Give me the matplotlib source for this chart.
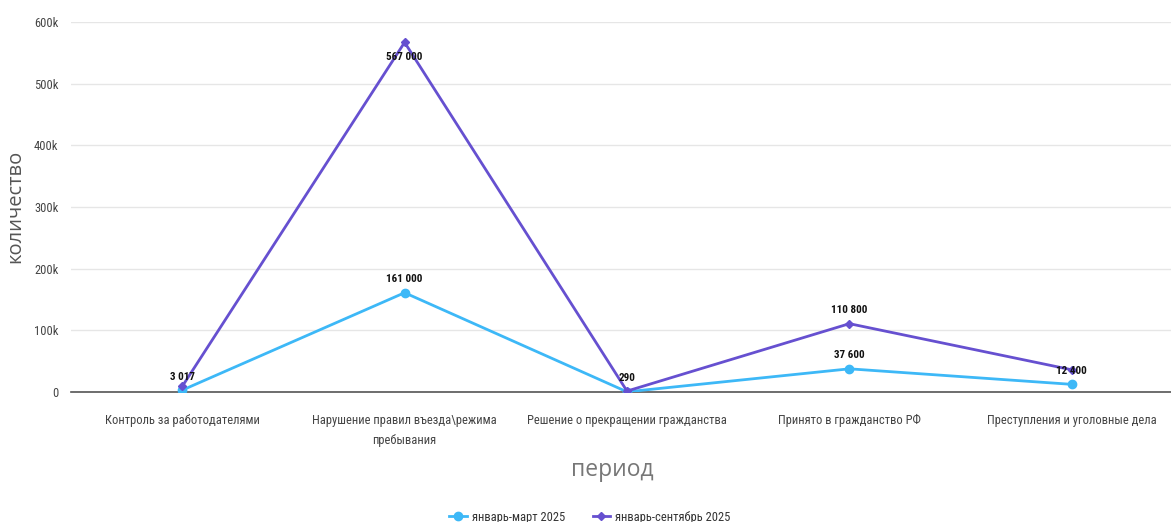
import matplotlib
matplotlib.use("Agg")
import matplotlib.pyplot as plt

categories = ["Контроль за работодателями", "Нарушение правил въезда\\режима\nпребывания",
              "Решение о прекращении гражданства", "Принято в гражданство РФ",
              "Преступления и уголовные дела"]
series_names = ["январь-март 2025", "январь-сентябрь 2025"]
jan_mar = [3017, 161000, 290, 37600, 12400]
jan_sep = [9000, 567000, 1500, 110800, 36000]
labels_mar = ["3 017", "161 000", "290", "37 600", "12 400"]
labels_sep = [None, "567 000", None, "110 800", None]
yticks = [0, 100000, 200000, 300000, 400000, 500000, 600000]
ytick_labels = ["0", "100k", "200k", "300k", "400k", "500k", "600k"]

narrow = ["Roboto Condensed", "Liberation Sans Narrow", "Roboto", "DejaVu Sans"]

W, H = 1171, 522
fig = plt.figure(figsize=(W/100, H/100), dpi=100)
ax = fig.add_axes([71/W, 1-392/H, 1100/W, 370/H])
c1, c2 = "#3db8f7", "#6650d0"
x = list(range(len(categories)))
ax.plot(x, jan_mar, color=c1, lw=2, marker="o", ms=6, label=series_names[0], zorder=3)
ax.plot(x, jan_sep, color=c2, lw=2, marker="D", ms=4, label=series_names[1], zorder=4)
for xi, v, l in zip(x, jan_mar, labels_mar):
    if l:
        ax.annotate(l, (xi, v), xytext=(0, 6), textcoords="offset points", ha="center", va="bottom",
                    fontsize=8, fontweight="bold", family=narrow, color="#111111", zorder=5)
for xi, v, l in zip(x, jan_sep, labels_sep):
    if l:
        off = -14 if xi == 1 else 6
        ax.annotate(l, (xi, v), xytext=(0, off), textcoords="offset points", ha="center",
                    va="bottom", fontsize=8, fontweight="bold", family=narrow, color="#111111", zorder=5)
ax.set_xlim(-0.5, 4.5 - 12/222.5)
ax.set_ylim(0, 600000)
ax.set_yticks(yticks)
ax.set_yticklabels(ytick_labels, family=narrow, fontsize=9, color="#444444")
ax.set_xticks(x)
ax.set_xticklabels(categories, family=narrow, fontsize=9, color="#444444", linespacing=1.65)
ax.tick_params(axis="y", length=0, pad=9)
ax.tick_params(axis="x", length=0, pad=16)
ax.grid(axis="y", color="#e6e6e6", lw=1)
ax.set_axisbelow(True)
for s in ["top", "right", "left"]:
    ax.spines[s].set_visible(False)
ax.spines["bottom"].set_color("#555555")
ax.spines["bottom"].set_linewidth(1.2)
ax.spines["bottom"].set_zorder(2)
fig.text(15/W, 1-206/H, "количество", rotation=90, ha="center", va="center",
         fontsize=14.5, color="#555555", family="Open Sans")
fig.text(612/W, 1-470/H, "период", ha="center", va="center", fontsize=16.5,
         color="#777777", family="Open Sans")
leg = fig.legend(loc="center", bbox_to_anchor=(590/W, 1-517/H), ncol=2, frameon=False,
                 prop={"family": narrow, "size": 9}, handlelength=1.4, columnspacing=2.2,
                 handletextpad=0.4)
for t in leg.get_texts():
    t.set_color("#333333")
fig.savefig("out.png", dpi=100)
